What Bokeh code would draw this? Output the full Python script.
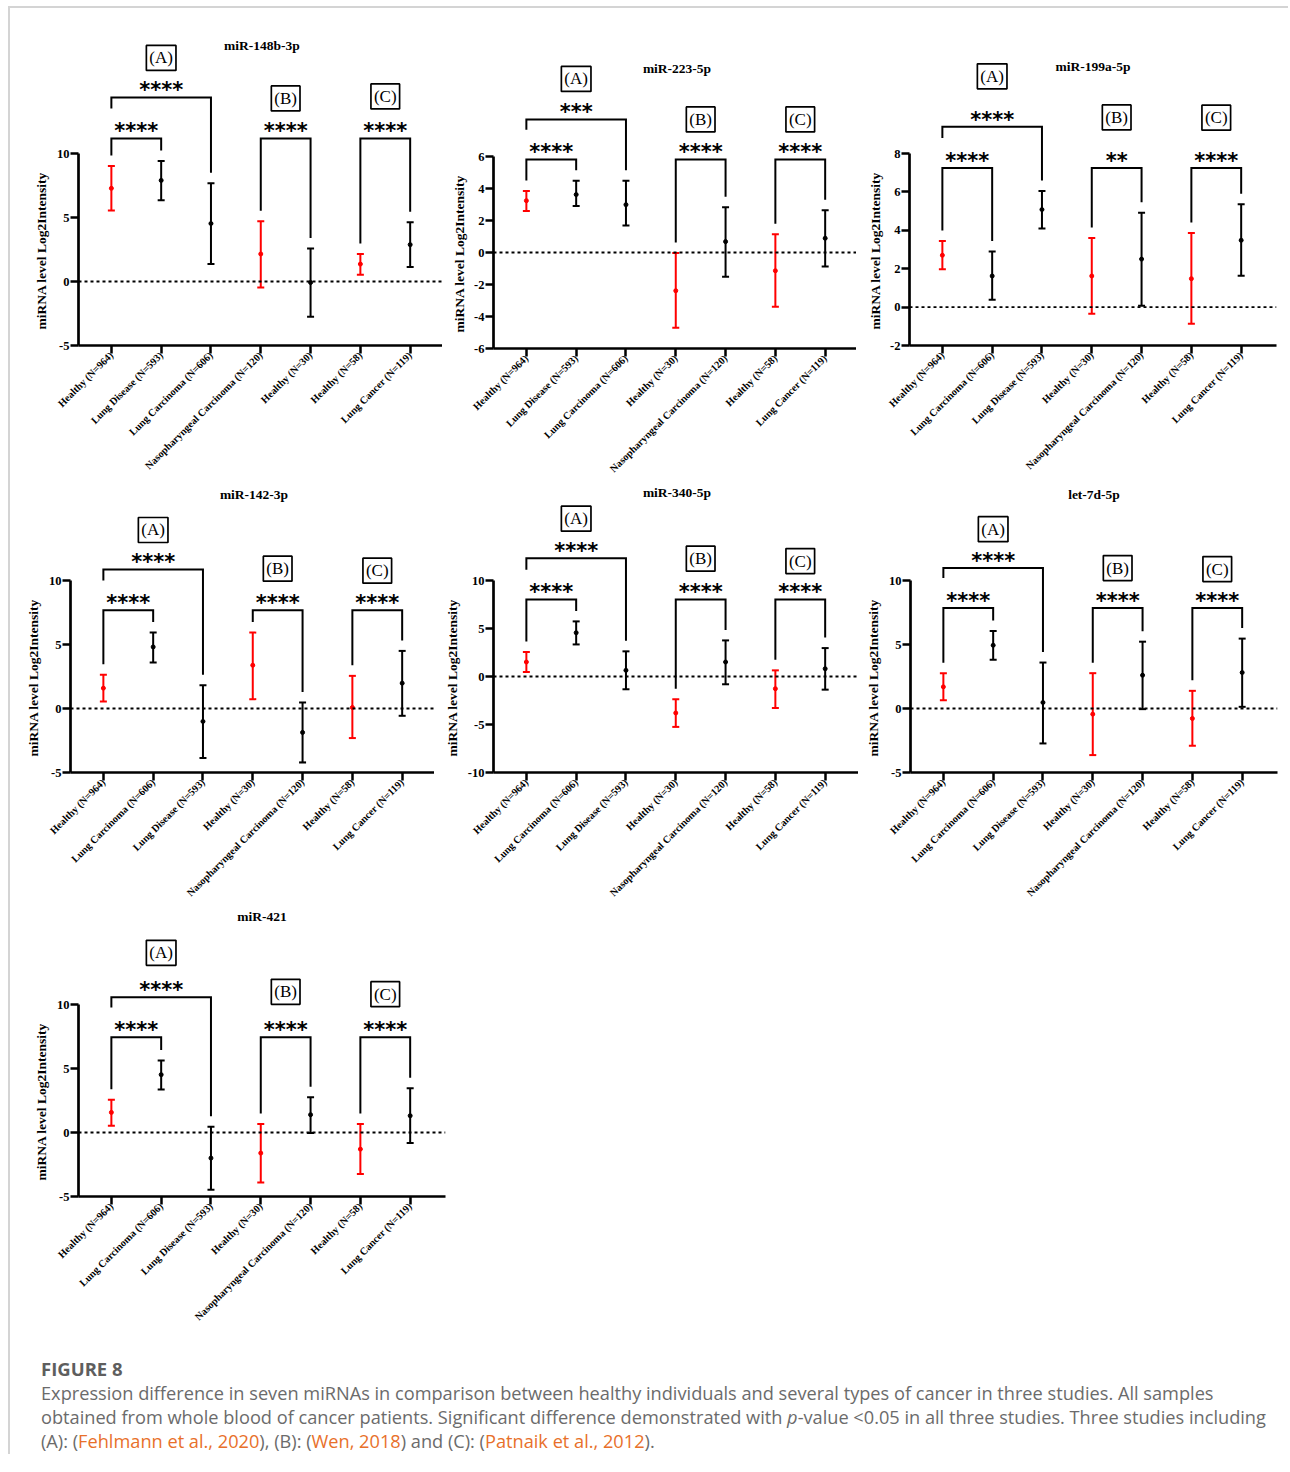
import math
from bokeh.plotting import figure
from bokeh.models import Range1d, FixedTicker, Span, Label, Div, Title
from bokeh.layouts import column, row
from bokeh.core.properties import value
from bokeh.embed import file_html
from bokeh.resources import INLINE

# ------------------------------------------------------------------ data
titles = ["miR-148b-3p", "miR-223-5p", "miR-199a-5p", "miR-142-3p",
          "miR-340-5p", "let-7d-5p", "miR-421"]

cats_148b = ["Healthy (N=964)", "Lung Disease (N=593)", "Lung Carcinoma (N=606)",
             "Nasopharyngeal Carcinoma (N=120)", "Healthy (N=30)",
             "Healthy (N=58)", "Lung Cancer (N=119)"]
cats_223 = ["Healthy (N=964)", "Lung Disease (N=593)", "Lung Carcinoma (N=606)",
            "Healthy (N=30)", "Nasopharyngeal Carcinoma (N=120)",
            "Healthy (N=58)", "Lung Cancer (N=119)"]
cats_std = ["Healthy (N=964)", "Lung Carcinoma (N=606)", "Lung Disease (N=593)",
            "Healthy (N=30)", "Nasopharyngeal Carcinoma (N=120)",
            "Healthy (N=58)", "Lung Cancer (N=119)"]

mean_148b = [7.28, 7.90, 4.53, 2.15, -0.08, 1.36, 2.88]
low_148b = [5.55, 6.34, 1.36, -0.47, -2.75, 0.52, 1.13]
high_148b = [9.03, 9.42, 7.67, 4.71, 2.57, 2.15, 4.63]

mean_223 = [3.24, 3.62, 2.99, -2.39, 0.68, -1.14, 0.89]
low_223 = [2.60, 2.91, 1.68, -4.70, -1.51, -3.39, -0.87]
high_223 = [3.85, 4.49, 4.49, -0.03, 2.83, 1.14, 2.64]

mean_199a = [2.70, 1.62, 5.08, 1.62, 2.50, 1.48, 3.48]
low_199a = [1.97, 0.38, 4.09, -0.35, 0.07, -0.87, 1.63]
high_199a = [3.44, 2.89, 6.05, 3.60, 4.92, 3.86, 5.36]

mean_142 = [1.59, 4.81, -1.01, 3.38, -1.87, 0.08, 1.98]
low_142 = [0.54, 3.59, -3.87, 0.73, -4.21, -2.31, -0.57]
high_142 = [2.63, 5.93, 1.82, 5.93, 0.47, 2.55, 4.50]

mean_340 = [1.51, 4.56, 0.64, -3.80, 1.51, -1.27, 0.81]
low_340 = [0.47, 3.34, -1.33, -5.25, -0.81, -3.28, -1.37]
high_340 = [2.55, 5.74, 2.62, -2.37, 3.76, 0.64, 2.96]

mean_let7d = [1.69, 4.94, 0.47, -0.44, 2.60, -0.78, 2.81]
low_let7d = [0.65, 3.80, -2.73, -3.64, -0.05, -2.91, 0.13]
high_let7d = [2.76, 6.06, 3.59, 2.76, 5.22, 1.38, 5.46]

mean_421 = [1.57, 4.52, -2.00, -1.61, 1.39, -1.30, 1.31]
low_421 = [0.53, 3.35, -4.48, -3.91, -0.04, -3.25, -0.83]
high_421 = [2.56, 5.62, 0.45, 0.66, 2.75, 0.66, 3.46]

y_limits = [(-5, 10), (-6, 6), (-2, 8), (-5, 10), (-10, 10), (-5, 10), (-5, 10)]
y_ticks = [[-5, 0, 5, 10], [-6, -4, -2, 0, 2, 4, 6], [-2, 0, 2, 4, 6, 8],
           [-5, 0, 5, 10], [-10, -5, 0, 5, 10], [-5, 0, 5, 10], [-5, 0, 5, 10]]

# significance: A (0 vs 1), A (0 vs 2), B (3 vs 4), C (5 vs 6)
sig_148b = ["****", "****", "****", "****"]
sig_223 = ["****", "***", "****", "****"]
sig_199a = ["****", "****", "**", "****"]
sig_142 = ["****", "****", "****", "****"]
sig_340 = ["****", "****", "****", "****"]
sig_let7d = ["****", "****", "****", "****"]
sig_421 = ["****", "****", "****", "****"]

# bracket heights (inner, outer) in axis units
bracket_levels = [(11.18, 14.38), (5.81, 8.32), (7.25, 9.39), (7.68, 10.86),
                  (8.02, 12.33), (7.86, 10.98), (7.44, 10.57)]

study_labels = ["(A)", "(B)", "(C)"]
y_label = "miRNA level Log2Intensity"

caption_title = "FIGURE 8"
caption_line1 = ("Expression difference in seven miRNAs in comparison between healthy "
                 "individuals and several types of cancer in three studies. All samples")
caption_line2 = ("obtained from whole blood of cancer patients. Significant difference "
                 "demonstrated with <i>p</i>-value &lt;0.05 in all three studies. "
                 "Three studies including")
ref_a = "Fehlmann et al., 2020"
ref_b = "Wen, 2018"
ref_c = "Patnaik et al., 2012"

panels = [
    (titles[0], cats_148b, mean_148b, low_148b, high_148b, sig_148b),
    (titles[1], cats_223, mean_223, low_223, high_223, sig_223),
    (titles[2], cats_std, mean_199a, low_199a, high_199a, sig_199a),
    (titles[3], cats_std, mean_142, low_142, high_142, sig_142),
    (titles[4], cats_std, mean_340, low_340, high_340, sig_340),
    (titles[5], cats_std, mean_let7d, low_let7d, high_let7d, sig_let7d),
    (titles[6], cats_std, mean_421, low_421, high_421, sig_421),
]

# ------------------------------------------------------------------ layout constants
AXIS_PX = 192.0          # pixel length of the y axis
CAT_PX = 49.8            # pixels between neighbouring categories
X0 = -0.66               # left end of the x range (categories at 0..6)
# (frame_w, frame_h, border_left, border_right, border_bottom)
fig_geo = [(364, 337, 68, 0, 139), (363, 340, 51, 0, 136), (367, 337, 53, 6, 139),
           (364, 288, 60, 0, 135), (365, 288, 59, 0, 135), (367, 288, 51, 6, 135),
           (367, 289, 68, 1, 150)]
title_px = [108, 87.7, 87.3, 86, 87.7, 86, 88]
box_px = [(26.7, 27.2, 29.2), (27.7, 27.3, 27.3), (37.7, 37.7, 37.4), (26.7, 28.7, 26.7),
          (26.7, 28.0, 25.6), (26.0, 27.0, 26.0), (31.6, 32.6, 30.3)]
YLAB_START_PX = 16       # y label begins this far above the x axis
SERIF = "Liberation Serif"
RED_IDX = (0, 3, 5)


def make_panel(k):
    title, cats, means, lows, highs, sig = panels[k]
    fw, fh, bl, br, bb = fig_geo[k]
    ymin, ymax = y_limits[k]
    ppu = AXIS_PX / (ymax - ymin)
    u = 1.0 / ppu
    y_end = ymin + fh / ppu
    x1 = X0 + fw / CAT_PX

    p = figure(frame_width=fw, frame_height=fh, x_range=Range1d(X0, x1),
               y_range=Range1d(ymin, y_end),
               output_backend="svg", toolbar_location=None, title=None,
               min_border_left=bl, min_border_right=br, min_border_top=0,
               min_border_bottom=bb)
    p.outline_line_color = None
    p.grid.visible = False
    p.background_fill_color = "white"
    p.border_fill_color = "white"

    xs = list(range(len(cats)))
    colors = ["#ff0000" if i in RED_IDX else "black" for i in xs]

    # axes
    xa = p.xaxis[0]
    xa.ticker = FixedTicker(ticks=xs, minor_ticks=[])
    xa.major_label_overrides = {i: c for i, c in enumerate(cats)}
    xa.major_label_orientation = math.pi / 4
    xa.axis_line_width = 2.7
    xa.major_tick_line_width = 2.5
    xa.major_tick_out = 8
    xa.major_tick_in = 0
    xa.minor_tick_line_color = None
    xa.major_label_text_font = SERIF
    xa.major_label_text_font_style = "bold"
    xa.major_label_text_font_size = "10.3px"
    xa.major_label_text_color = "black"
    xa.major_label_standoff = 0

    ya = p.yaxis[0]
    ya.ticker = FixedTicker(ticks=y_ticks[k], minor_ticks=[])
    ya.major_label_overrides = {t: str(t) for t in y_ticks[k]}
    ya.bounds = (ymin, ymax)
    ya.axis_line_width = 2.7
    ya.major_tick_line_width = 2.5
    ya.major_tick_out = 8
    ya.major_tick_in = 0
    ya.minor_tick_line_color = None
    ya.major_label_text_font = SERIF
    ya.major_label_text_font_style = "bold"
    ya.major_label_text_font_size = "12.5px"
    ya.major_label_text_color = "black"
    ya.major_label_standoff = 1

    # y label, placed along the drawn part of the axis
    p.add_layout(Title(text=y_label, align="left", offset=YLAB_START_PX,
                       standoff=10, text_font=SERIF, text_font_style="bold",
                       text_font_size="13.5px", text_color="black"), "left")

    # zero line
    p.add_layout(Span(location=0, dimension="width", line_color="black",
                      line_width=1.8, line_dash="3 3"))

    # error bars
    p.segment(x0=xs, y0=lows, x1=xs, y1=highs, line_color=colors, line_width=2)
    p.scatter(x=xs, y=highs, marker="dash", size=7, line_color=colors, line_width=2)
    p.scatter(x=xs, y=lows, marker="dash", size=7, line_color=colors, line_width=2)
    p.scatter(x=xs, y=means, marker="circle", size=4, line_color=colors, fill_color=colors)

    # brackets
    lvl_in, lvl_out = bracket_levels[k]
    gap = 10.5 * u
    star_off = 12.8 * u

    def leg(i):
        return highs[i] + gap

    br_x = [[0, 0, 1, 1], [0, 0, 2, 2], [3, 3, 4, 4], [5, 5, 6, 6]]
    br_y = [[leg(0), lvl_in, lvl_in, leg(1)],
            [lvl_in + star_off + 17 * u, lvl_out, lvl_out, leg(2)],
            [leg(3), lvl_in, lvl_in, leg(4)],
            [leg(5), lvl_in, lvl_in, leg(6)]]
    p.multi_line(br_x, br_y, line_color="black", line_width=2, line_join="miter")

    star_x = [0.5, 1.0, 3.5, 5.5]
    star_c = [lvl_in + star_off, lvl_out + star_off, lvl_in + star_off, lvl_in + star_off]
    star_y = [c - 5.5 * u for c in star_c]
    p.text(x=star_x, y=star_y, text=sig, text_font=value("DejaVu Sans"),
           text_font_style="bold", text_font_size="21px", text_align="center",
           text_baseline="middle", text_color="black")

    # study boxes
    bx = [1.0, 3.5, 5.5]
    by = [star_c[1] + box_px[k][0] * u, star_c[2] + box_px[k][1] * u,
          star_c[3] + box_px[k][2] * u]
    for lab, x, y in zip(study_labels, bx, by):
        p.add_layout(Label(x=x, y=y, text=lab, text_font=SERIF, text_font_size="17px",
                           text_align="center", text_baseline="middle", text_color="black",
                           border_line_color="black", border_line_width=1.7,
                           background_fill_color="white", padding=3))

    # panel title
    p.add_layout(Label(x=X0 + 367 / CAT_PX / 2, y=ymax + title_px[k] * u, text=title,
                       text_font=SERIF, text_font_style="bold", text_font_size="13.5px",
                       text_align="center", text_baseline="middle", text_color="black"))
    return p


figs = [make_panel(k) for k in range(7)]

link = '<span style="color:#e8702a;">{}</span>'
cap_html = (
    '<div style="margin:0;padding:11px 0 0 31px;font-family:\'Open Sans\', sans-serif;'
    'font-size:18.2px;line-height:24px;color:#6b6b6b;white-space:nowrap;">'
    '<span style="font-weight:bold;font-size:18.5px;color:#5e5e5e;">' + caption_title
    + '</span><br>'
    + caption_line1 + '<br>' + caption_line2 + '<br>'
    '(A): (' + link.format(ref_a) + '), (B): (' + link.format(ref_b)
    + ') and (C): (' + link.format(ref_c) + ').</div>'
)
caption = Div(text=cap_html, width=1272, height=108, margin=(0, 0, 0, 0))

row1 = row(figs[0], figs[1], figs[2], spacing=0)
row2 = row(figs[3], figs[4], figs[5], spacing=0)
row3 = row(figs[6], spacing=0)
body = column(row1, row2, row3, caption, spacing=0)

total_h = 476 + 423 + 439 + 108
left_bar = Div(text="", width=2, height=total_h, margin=(0, 0, 0, 0),
               styles={"background-color": "#d4d4d4"})
top_bar = Div(text="", width=1280, height=2, margin=(0, 0, 0, 0),
              styles={"background-color": "#d4d4d4"})
layout = column(top_bar, row(left_bar, body, spacing=0), spacing=0, margin=(6, 0, 0, 8))

open("out.html", "w").write(file_html(layout, INLINE, title="Figure 8"))
